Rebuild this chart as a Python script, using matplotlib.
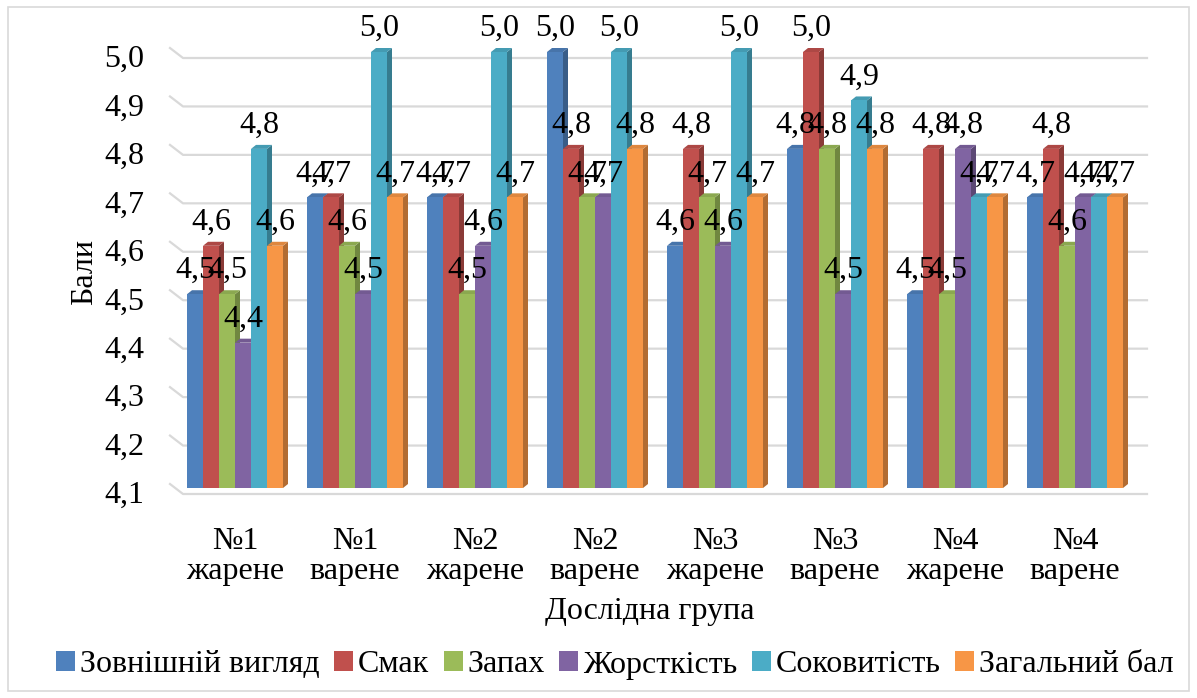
import matplotlib
matplotlib.use('Agg')
import matplotlib.pyplot as plt
import matplotlib.transforms as mtransforms
from matplotlib.patches import Polygon, Rectangle
from matplotlib.colors import to_rgb
import numpy as np

plt.rcParams['font.family'] = ['Liberation Serif', 'DejaVu Serif']

# дані
groups = ['№1\nжарене', '№1\nварене', '№2\nжарене', '№2\nварене',
          '№3\nжарене', '№3\nварене', '№4\nжарене', '№4\nварене']
series = ['Зовнішній вигляд', 'Смак', 'Запах', 'Жорсткість', 'Соковитість', 'Загальний бал']
zovn = [4.5, 4.7, 4.7, 5.0, 4.6, 4.8, 4.5, 4.7]
smak = [4.6, 4.7, 4.7, 4.8, 4.8, 5.0, 4.8, 4.8]
zapakh = [4.5, 4.6, 4.5, 4.7, 4.7, 4.8, 4.5, 4.6]
zhorst = [4.4, 4.5, 4.6, 4.7, 4.6, 4.5, 4.8, 4.7]
sokov = [4.8, 5.0, 5.0, 5.0, 5.0, 4.9, 4.7, 4.7]
zagal = [4.6, 4.7, 4.7, 4.8, 4.7, 4.8, 4.7, 4.7]
yticks = [4.1, 4.2, 4.3, 4.4, 4.5, 4.6, 4.7, 4.8, 4.9, 5.0]
colors = ['#4F81BD', '#C0504D', '#9BBB59', '#8064A2', '#4BACC6', '#F79646']

values = [zovn, smak, zapakh, zhorst, sokov, zagal]
ymin, ymax = 4.1, 5.0
FS = 23


def shade(c, k):
    r, g, b = to_rgb(c)
    return (r * k, g * k, b * k)


W, H = 1197, 698
fig = plt.figure(figsize=(W / 100, H / 100), dpi=100)
ax = fig.add_axes([175 / W, (H - 488) / H, 960 / W, 436 / H])
ax.set_xlim(-0.5, len(groups) - 0.5)
ax.set_ylim(ymin, ymax)
for s in ax.spines.values():
    s.set_visible(False)

# розмір пікселя в одиницях даних
p0 = ax.transData.transform((0, ymin))
p1 = ax.transData.transform((1, ymax))
px_x = 1.0 / (p1[0] - p0[0])
px_y = (ymax - ymin) / (p1[1] - p0[1])

# сітка на задній стінці
xl, xr = ax.get_xlim()
for v in yticks:
    ax.plot([xl - 5 * px_x, xl + 8 * px_x, xr + 12 * px_x],
            [v + 4 * px_y, v - 6 * px_y, v - 6 * px_y],
            color='#D9D9D9', lw=1.6, zorder=0, clip_on=False)

x = np.arange(len(groups))
n = len(series)
bw = 0.8 / n
dx, dy = 5 * px_x, 4 * px_y

for i, (name, vals, c) in enumerate(zip(series, values, colors)):
    xs = x - 0.4 + bw * (i + 0.5)
    z = 2 + i * 3
    ax.bar(xs, np.array(vals) - ymin, bottom=ymin, width=bw, color=c,
           label=name, zorder=z + 2, linewidth=0)
    for xc, v in zip(xs, vals):
        x1 = xc + bw / 2
        x0 = xc - bw / 2
        side = Polygon([(x1, ymin), (x1 + dx, ymin + dy), (x1 + dx, v + dy), (x1, v)],
                       closed=True, facecolor=shade(c, 0.72), lw=0, zorder=z, clip_on=False)
        top = Polygon([(x0, v), (x1, v), (x1 + dx, v + dy), (x0 + dx, v + dy)],
                      closed=True, facecolor=shade(c, 0.9), lw=0, zorder=z + 1, clip_on=False)
        ax.add_patch(side)
        ax.add_patch(top)
        ax.annotate(f'{v:.1f}'.replace('.', ','), (xc, v), xytext=(0, 11.5),
                    textcoords='offset points', ha='center', va='baseline',
                    fontsize=FS, zorder=50, annotation_clip=False)

ax.set_yticks(yticks)
ax.set_yticklabels([f'{v:.1f}'.replace('.', ',') for v in yticks], fontsize=FS)
ax.set_xticks(x)
ax.set_xticklabels(groups, fontsize=FS, linespacing=1.05)
ax.tick_params(axis='y', length=0, pad=22)
ax.tick_params(axis='x', length=0, pad=28)
off = mtransforms.ScaledTranslation(0, -3 / 72, fig.dpi_scale_trans)
for lbl in ax.get_yticklabels():
    lbl.set_transform(lbl.get_transform() + off)

fig.text(85 / W, 1 - 272 / H, 'Бали', rotation=90, ha='center', va='center', fontsize=FS)
fig.text(650 / W, 1 - 612 / H, 'Дослідна група', ha='center', va='center', fontsize=FS)

handles, labels = ax.get_legend_handles_labels()
fig.legend(handles, labels, loc='center', bbox_to_anchor=(615 / W, 1 - 665 / H),
           ncol=6, frameon=False, fontsize=FS, handlelength=0.6, handleheight=0.6,
           handletextpad=0.15, columnspacing=0.45)

fig.patches.append(Rectangle((8 / W, 7 / H), 1 - 16 / W, 1 - 14 / H,
                             transform=fig.transFigure, fill=False,
                             edgecolor='#D9D9D9', lw=1.2))

fig.savefig('out.png', dpi=100)
